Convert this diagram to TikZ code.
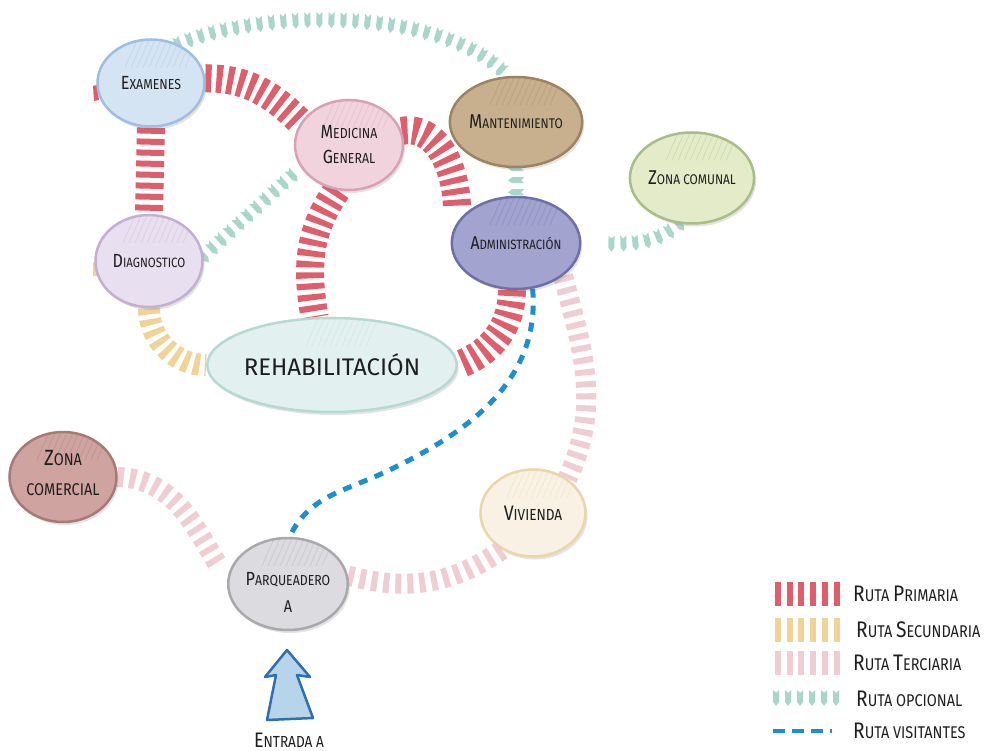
\documentclass[tikz,border=0pt]{standalone}
\usepackage{fontspec}
\setmainfont{Fira Sans}[FakeStretch=0.85]
\newfontfamily\widefont{Fira Sans}
\usetikzlibrary{shapes.geometric,decorations.markings,shadows}
\definecolor{cprim}{HTML}{DE5F6B}
\definecolor{csec}{HTML}{F2D397}
\definecolor{cter}{HTML}{EFCDD3}
\definecolor{copt}{HTML}{A9D6CA}
\definecolor{cvis}{HTML}{1C8FD0}
\definecolor{ctext}{HTML}{1E1E1E}
\definecolor{cexf}{HTML}{D5E4F2}\definecolor{cexd}{HTML}{9DBFE2}
\definecolor{cmedf}{HTML}{F0D3DD}\definecolor{cmedd}{HTML}{DBA0B5}
\definecolor{cmanf}{HTML}{C8B08E}\definecolor{cmand}{HTML}{9C8463}
\definecolor{czcf}{HTML}{E3EBC8}\definecolor{czcd}{HTML}{A9BD88}
\definecolor{cadmf}{HTML}{A3A3D0}\definecolor{cadmd}{HTML}{6F6FA8}
\definecolor{cdiaf}{HTML}{E8DFF0}\definecolor{cdiad}{HTML}{C3AFD0}
\definecolor{crehf}{HTML}{E2F1EF}\definecolor{crehd}{HTML}{B6D9D2}
\definecolor{czmf}{HTML}{CFA39F}\definecolor{czmd}{HTML}{A77A76}
\definecolor{cvivf}{HTML}{F8F1E4}\definecolor{cvivd}{HTML}{EAD6A8}
\definecolor{cparf}{HTML}{DCDCE0}\definecolor{cpard}{HTML}{A8A8AE}
\definecolor{carrf}{HTML}{B8D4EA}\definecolor{carrd}{HTML}{2F6FB0}
\newcommand\SC[4]{{\fontsize{#1}{#1}\selectfont #3}{\fontsize{#2}{#2}\selectfont #4}}
\pgfdeclarelayer{bg}
\pgfsetlayers{bg,main}
\tikzset{
 place/.style n args={4}{ellipse, fill=#1, draw=#2, line width=2.5pt,
   minimum width=#3, minimum height=#4, inner sep=0pt, text=ctext, align=center,
   font=\fontsize{14}{25}\selectfont,
   drop shadow={opacity=0.18, shadow xshift=2pt, shadow yshift=-3pt, fill=black!60},
   path picture={\foreach \k in {-3,...,7}{\draw[#2, opacity=.35, line width=.7pt]
     ([xshift=\k*6pt+6pt, yshift=4pt]path picture bounding box.north) -- ++(-14pt,-32pt);}}},
 prim/.style={draw=cprim, line width=28pt, dash pattern=on 6pt off 5pt},
 sec/.style={draw=csec, line width=22pt, dash pattern=on 6pt off 5pt},
 ter/.style={draw=cter, line width=20pt, dash pattern=on 6pt off 6pt},
 vis/.style={draw=cvis, line width=5pt, dash pattern=on 9pt off 8pt},
 opt/.style={decoration={markings, mark=between positions #1 and 1 step 12pt with
   {\fill[copt] (-3pt,8pt) -- (0pt,5pt) -- (3pt,8pt) -- (3pt,-4pt) -- (0pt,-8pt) -- (-3pt,-4pt) -- cycle;}},
   decorate},
 opt/.default=0,
 lgtext/.style={anchor=west, text=ctext, inner sep=0pt},
 arrowshape/.style={draw=carrd, fill=carrf, line width=2.5pt, line join=round},
}
\begin{document}
\begin{tikzpicture}[x=1pt,y=1pt]
\useasboundingbox (0,0) rectangle (993,-751);
% nodes
\node[place={cexf}{cexd}{107pt}{87pt}] (ex) at (151,-83) {\SC{19}{14.5}{E}{XAMENES}};
\node[place={cmedf}{cmedd}{108pt}{90pt}] (med) at (349,-145) {\SC{19}{14.5}{M}{EDICINA}\\[0pt]\SC{19}{14.5}{G}{ENERAL}};
\node[place={cmanf}{cmand}{107pt}{90pt}] (mant) at (516,-122) {\SC{20}{14}{M}{ANTENIMIENTO}};
\node[place={czcf}{czcd}{106pt}{91pt}] (zcom) at (692,-178) {\SC{20}{14}{Z}{ONA COMUNAL}};
\node[place={cadmf}{cadmd}{106pt}{92pt}] (adm) at (516,-243) {\SC{18.5}{13.5}{A}{DMINISTRACIÓN}};
\node[place={cdiaf}{cdiad}{107pt}{92pt}] (diag) at (149,-261) {\SC{19}{13.5}{D}{IAGNOSTICO}};
\node[place={crehf}{crehd}{240pt}{94pt}] (reh) at (332,-365) {\widefont\fontsize{24}{24}\selectfont REHABILITACIÓN};
\node[place={czmf}{czmd}{107pt}{90pt}] (zcomer) at (63,-477) {\SC{22}{17}{Z}{ONA}\\[5pt]{\fontsize{17}{17}\selectfont COMERCIAL}\rule[-8pt]{0pt}{0pt}};
\node[place={cvivf}{cvivd}{105pt}{87pt}] (viv) at (533,-513) {\SC{21}{16}{V}{IVIENDA}};
\node[place={cparf}{cpard}{106pt}{92pt}] (parq) at (288,-584) {\rule{0pt}{29pt}\SC{19}{14.5}{P}{ARQUEADERO}\\[2pt]{\fontsize{17}{17}\selectfont A}};
% entrance arrow
\draw[arrowshape] (287,-650) -- (310,-677) -- (297,-675) -- (313,-718) -- (267,-720) -- (276,-675) -- (265,-677) -- cycle;
\node[text=ctext, inner sep=0pt] (ent) at (289,-740) {\SC{21}{16}{E}{NTRADA A}};
% legend
\draw[prim, line width=24pt, dash pattern=on 6pt off 5.7pt] (775,-594) -- (840,-594);
\draw[sec, line width=24pt, dash pattern=on 6pt off 5.7pt] (775,-630) -- (840,-630);
\draw[ter, line width=24pt, dash pattern=on 6pt off 5.7pt] (775,-663) -- (840,-663);
\path[opt] (776,-698) -- (840,-698);
\draw[vis, line width=4pt, dash pattern=on 12pt off 7pt] (773,-731) -- (832,-731);
\node[lgtext] (l1) at (853,-594) {\SC{22.5}{17}{R}{UTA }\SC{22.5}{17}{P}{RIMARIA}};
\node[lgtext] (l2) at (856,-630) {\SC{22.5}{17}{R}{UTA }\SC{22.5}{17}{S}{ECUNDARIA}};
\node[lgtext] (l3) at (853,-663) {\SC{22.5}{17}{R}{UTA }\SC{22.5}{17}{T}{ERCIARIA}};
\node[lgtext] (l4) at (856,-699) {\SC{22.5}{17}{R}{UTA OPCIONAL}};
\node[lgtext] (l5) at (853,-731) {\SC{22.5}{17}{R}{UTA VISITANTES}};
% connectors
\begin{pgfonlayer}{bg}
\fill[white] (0,0) rectangle (993,-751);
\draw[prim] (ex.5) to[out=0,in=135] (med.155);
\draw[prim] (ex.270) -- (diag.90);
\draw[prim] (med.255) to[out=235,in=100] (reh.110);
\draw[prim] (med.15) to[out=10,in=90] ([xshift=-12pt]adm.145);
\draw[prim] (adm.265) to[out=270,in=20] (reh.0);
\fill[cprim] (93,-86) -- (97,-85) -- (99,-100) -- (94,-101) -- cycle;
\draw[sec] (diag.270) to[out=270,in=180] (reh.180);
\fill[csec] (93,-262) -- (97,-262) -- (97,-276) -- (93,-276) -- cycle;
\draw[ter] (adm.-35) to[out=-75,in=65] (viv.45);
\draw[ter] (parq.8) to[out=-15,in=215] (viv.230);
\draw[ter, shorten >=14pt] (zcomer.0) .. controls +(60,-2) and +(-30,45) .. (parq.175);
\path[opt] (ex.55) .. controls (260,-10) and (440,-5) .. (mant.100);
\path[opt] (diag.5) -- (med.205);
\path[opt] (mant.270) -- (adm.90);
\path[opt=30pt] (adm.0) to[out=0,in=220] (zcom.255);
\coordinate (vb) at (383,-473);
\draw[vis] (adm.290) to[out=-85,in=25] (vb) to[out=205,in=65] (parq.88);
\end{pgfonlayer}
\end{tikzpicture}
\end{document}
